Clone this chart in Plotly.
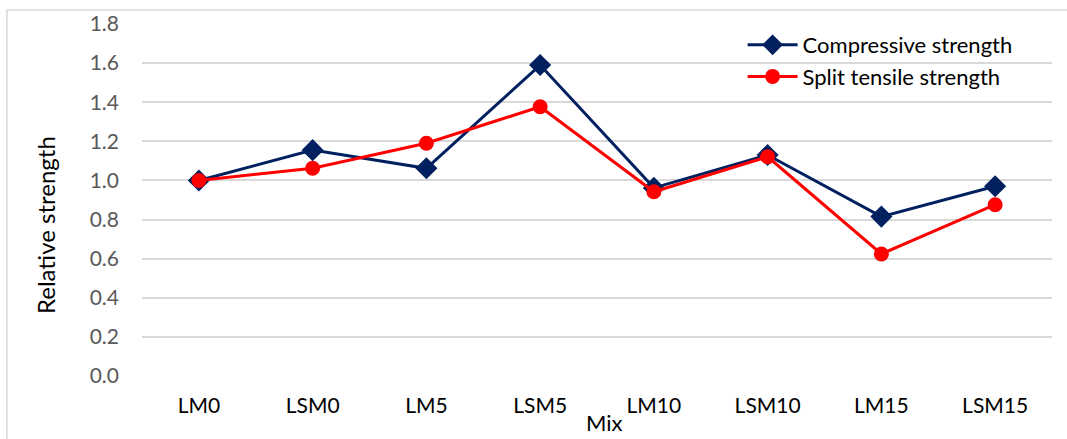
import plotly.graph_objects as go

mixes = ["LM0", "LSM0", "LM5", "LSM5", "LM10", "LSM10", "LM15", "LSM15"]
compressive = [1.00, 1.155, 1.062, 1.59, 0.962, 1.13, 0.815, 0.97]
split_tensile = [1.00, 1.062, 1.19, 1.377, 0.942, 1.121, 0.624, 0.876]
y_ticks = [0.0, 0.2, 0.4, 0.6, 0.8, 1.0, 1.2, 1.4, 1.6, 1.8]

FONT = "Lato, 'Open Sans', sans-serif"

fig = go.Figure()
fig.add_trace(go.Scatter(
    x=mixes, y=compressive, name="Compressive strength",
    mode="lines+markers",
    line=dict(color="#002060", width=3),
    marker=dict(symbol="diamond", size=17, color="#002060"),
))
fig.add_trace(go.Scatter(
    x=mixes, y=split_tensile, name="Split tensile strength",
    mode="lines+markers",
    line=dict(color="#FF0000", width=3),
    marker=dict(symbol="circle", size=15, color="#FF0000"),
))

fig.update_layout(
    width=1067, height=439,
    margin=dict(l=142, r=15, t=24, b=63),
    paper_bgcolor="white", plot_bgcolor="white",
    font=dict(family=FONT, color="#000000"),
    legend=dict(
        x=0.66, y=1.0, xanchor="left", yanchor="top",
        font=dict(size=22, color="#000000", family=FONT),
        bgcolor="rgba(0,0,0,0)",
        itemwidth=50, tracegroupgap=4,
    ),
    xaxis=dict(
        type="category", range=[-0.5, 7.5], automargin=False,
        showgrid=False, zeroline=False, showline=False,
        ticks="", ticklabelstandoff=15,
        tickfont=dict(size=21, color="#000000"),
    ),
    yaxis=dict(
        range=[0, 1.8], tickvals=y_ticks, automargin=False,
        ticktext=[f"{v:.1f}" for v in y_ticks],
        showgrid=True, gridcolor="#D9D9D9", gridwidth=1.5,
        zeroline=False, showline=False, ticks="",
        ticklabelstandoff=22,
        tickfont=dict(size=21, color="#595959"),
    ),
    annotations=[
        dict(text="Mix", xref="paper", yref="paper", x=(604 - 142) / 910, y=-(438 - 376) / 352,
             xanchor="center", yanchor="bottom", showarrow=False,
             font=dict(size=22, color="#000000", family=FONT)),
        dict(text="Relative strength", xref="paper", yref="paper", x=-(142 - 45) / 910, y=(376 - 225) / 352,
             xanchor="center", yanchor="middle", showarrow=False, textangle=-90,
             font=dict(size=24, color="#000000", family=FONT)),
    ],
    shapes=[dict(
        type="rect", xref="paper", yref="paper",
        x0=-0.1484, x1=1.05, y0=-0.3, y1=1.04,
        line=dict(color="#D9D9D9", width=1.5), fillcolor="rgba(0,0,0,0)",
        layer="below",
    )],
)

fig.write_html("out.html")
